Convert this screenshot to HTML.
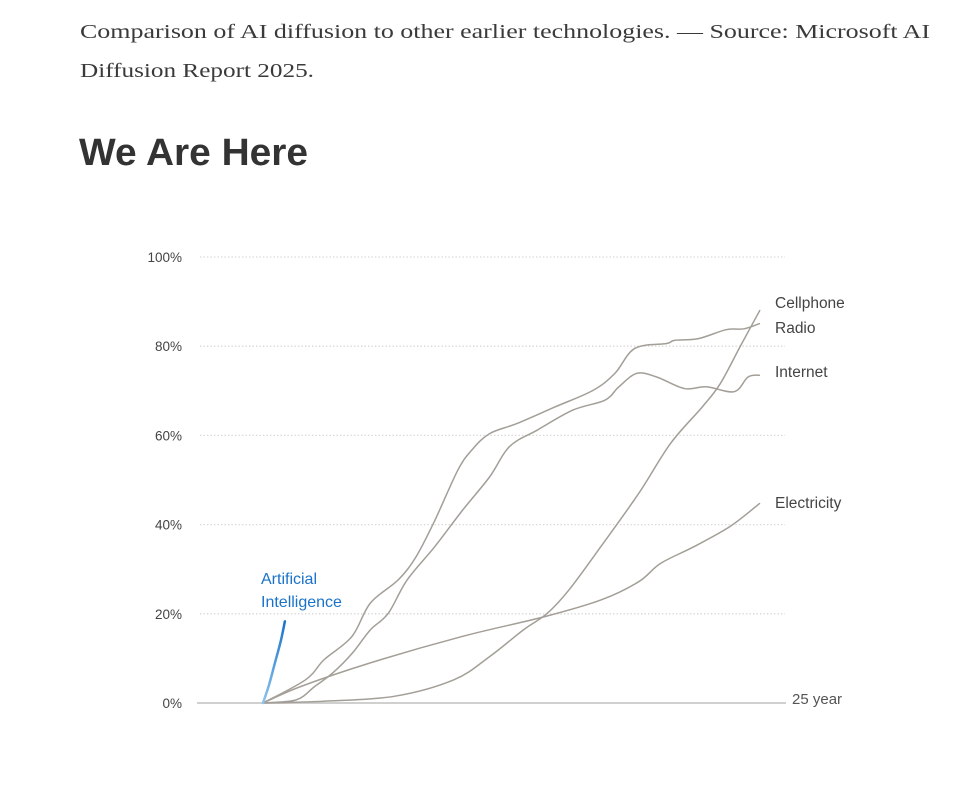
<!DOCTYPE html>
<html><head><meta charset="utf-8"><style>
html,body{margin:0;padding:0;background:#fff;}
svg{display:block;}
</style></head><body>
<svg id="chart" width="968" height="811" viewBox="0 0 968 811" xmlns="http://www.w3.org/2000/svg">
<defs>
<linearGradient id="aiGrad" x1="0" y1="1" x2="0" y2="0">
<stop offset="0" stop-color="#8cc4ee"/><stop offset="1" stop-color="#1a73c9"/>
</linearGradient>
</defs>
<text x="80" y="38" font-family="Liberation Serif, serif" font-size="20.5" fill="#3a3a3a" textLength="850" lengthAdjust="spacingAndGlyphs">Comparison of AI diffusion to other earlier technologies. — Source: Microsoft AI</text>
<text x="80" y="77" font-family="Liberation Serif, serif" font-size="20.5" fill="#3a3a3a" textLength="234" lengthAdjust="spacingAndGlyphs">Diffusion Report 2025.</text>
<text x="79" y="165" font-family="Liberation Sans, sans-serif" font-size="38" font-weight="bold" fill="#333" textLength="229" lengthAdjust="spacingAndGlyphs">We Are Here</text>
<g id="grid"></g>
<g id="series"></g>
</svg>
<script>
const yTicks = [0, 20, 40, 60, 80, 100];
const tickLabels = ["0%", "20%", "40%", "60%", "80%", "100%"];
const radioYears = [0,2.14,3.07,4.47,5.4,6.8,7.7,8.65,9.8,10.5,11.4,12.8,14.7,16.6,17.7,18.7,20.3,20.7,21.9,23.3,24.2,25];
const radioPct = [0,5.2,9.7,14.9,22.4,27.6,32.8,41,52.2,56.7,60.4,62.7,66.4,70.1,73.9,79.5,80.6,81.3,81.7,83.7,83.9,85.1];
const internetYears = [0,1.67,2.6,3.5,4.5,5.4,6.3,7.25,8.65,10.05,11.4,12.4,13.8,15.6,17.2,17.9,18.8,19.8,21.2,22.3,23.7,24.4,25];
const internetPct = [0,0.7,3.7,6.7,11.2,16.4,20.1,27.6,35.1,43.3,50.7,57.5,61.2,65.7,67.9,70.9,73.9,73.1,70.5,70.9,69.8,73.1,73.5];
const cellYears = [0,3.07,6.6,9.6,11.4,13.1,14.3,15.4,17,18.9,20.5,22.1,23,24,25];
const cellPct = [0,0.4,1.5,5.2,10.4,16.4,20.1,25.4,35.1,47,58.2,66.4,71.6,79.9,88.1];
const elecYears = [0,1.9,5.4,10,14.2,17,18.9,20,21.7,23.5,25];
const elecPct = [0,3.7,9,14.9,19.4,23.1,27.2,31.3,35.1,39.6,44.8];
const aiYears = [0,0.3,0.6,0.9,1.1];
const aiPct = [0,4,9,14,18.3];
const seriesNames = ["Cellphone","Radio","Internet","Electricity"];

const NS = "http://www.w3.org/2000/svg";
const xS = v => 263 + v * (760 - 263) / 25;
const yS = v => 703 - v * (703 - 257) / 100;
function mk(tag, attrs, parent){const e=document.createElementNS(NS,tag);for(const k in attrs)e.setAttribute(k,attrs[k]);parent.appendChild(e);return e;}
const grid = document.getElementById('grid');
const ser = document.getElementById('series');
const F = "Liberation Sans, sans-serif";
yTicks.forEach((t,i)=>{
  if(t>0){
    const l = mk('line',{x1:200,x2:785,y1:yS(t),y2:yS(t),stroke:'#d6d6d6','stroke-width':1.3,'stroke-dasharray':'1.3 2.2'},grid);
    
    
  }
  const tx = mk('text',{x:182,y:yS(t)+5,'text-anchor':'end','font-family':F,'font-size':13.5,fill:'#444'},grid);
  tx.textContent = tickLabels[i];
  
  
});
const ax = mk('line',{x1:197,x2:786,y1:yS(0),y2:yS(0),stroke:'#d0d0d0','stroke-width':2},grid);


const xl = mk('text',{x:792,y:704,'font-family':F,'font-size':15,fill:'#555'},grid);
xl.textContent='25 year';



function smoothPath(xs, ys){
  const p = xs.map((x,i)=>[xS(x), yS(ys[i])]);
  let d = 'M'+p[0][0]+','+p[0][1];
  for(let i=0;i<p.length-1;i++){
    const p0=p[i-1]||p[i], p1=p[i], p2=p[i+1], p3=p[i+2]||p2;
    const c1x=p1[0]+(p2[0]-p0[0])/6, c1y=p1[1]+(p2[1]-p0[1])/6;
    const c2x=p2[0]-(p3[0]-p1[0])/6, c2y=p2[1]-(p3[1]-p1[1])/6;
    d+=' C'+c1x+','+c1y+' '+c2x+','+c2y+' '+p2[0]+','+p2[1];
  }
  return d;
}
const data = [[cellYears,cellPct],[radioYears,radioPct],[internetYears,internetPct],[elecYears,elecPct]];
const labelY = [303, 328, 372, 503];
data.forEach((s,i)=>{
  const p = mk('path',{d:smoothPath(s[0],s[1]),fill:'none',stroke:'#a39e97','stroke-width':1.5},ser);
  
  
  const t = mk('text',{x:775,y:labelY[i]+5,'font-family':F,'font-size':15.5,fill:'#444'},ser);
  t.textContent = seriesNames[i];
  
  
});
const ai = mk('path',{d:smoothPath(aiYears,aiPct),fill:'none',stroke:'url(#aiGrad)','stroke-width':2.5,'stroke-linecap':'round'},ser);


const a1 = mk('text',{x:261,y:584,'font-family':F,'font-size':16,fill:'#1a73c9'},ser);
a1.textContent='Artificial';


const a2 = mk('text',{x:261,y:607,'font-family':F,'font-size':16,fill:'#1a73c9'},ser);
a2.textContent='Intelligence';


</script>
</body></html>
